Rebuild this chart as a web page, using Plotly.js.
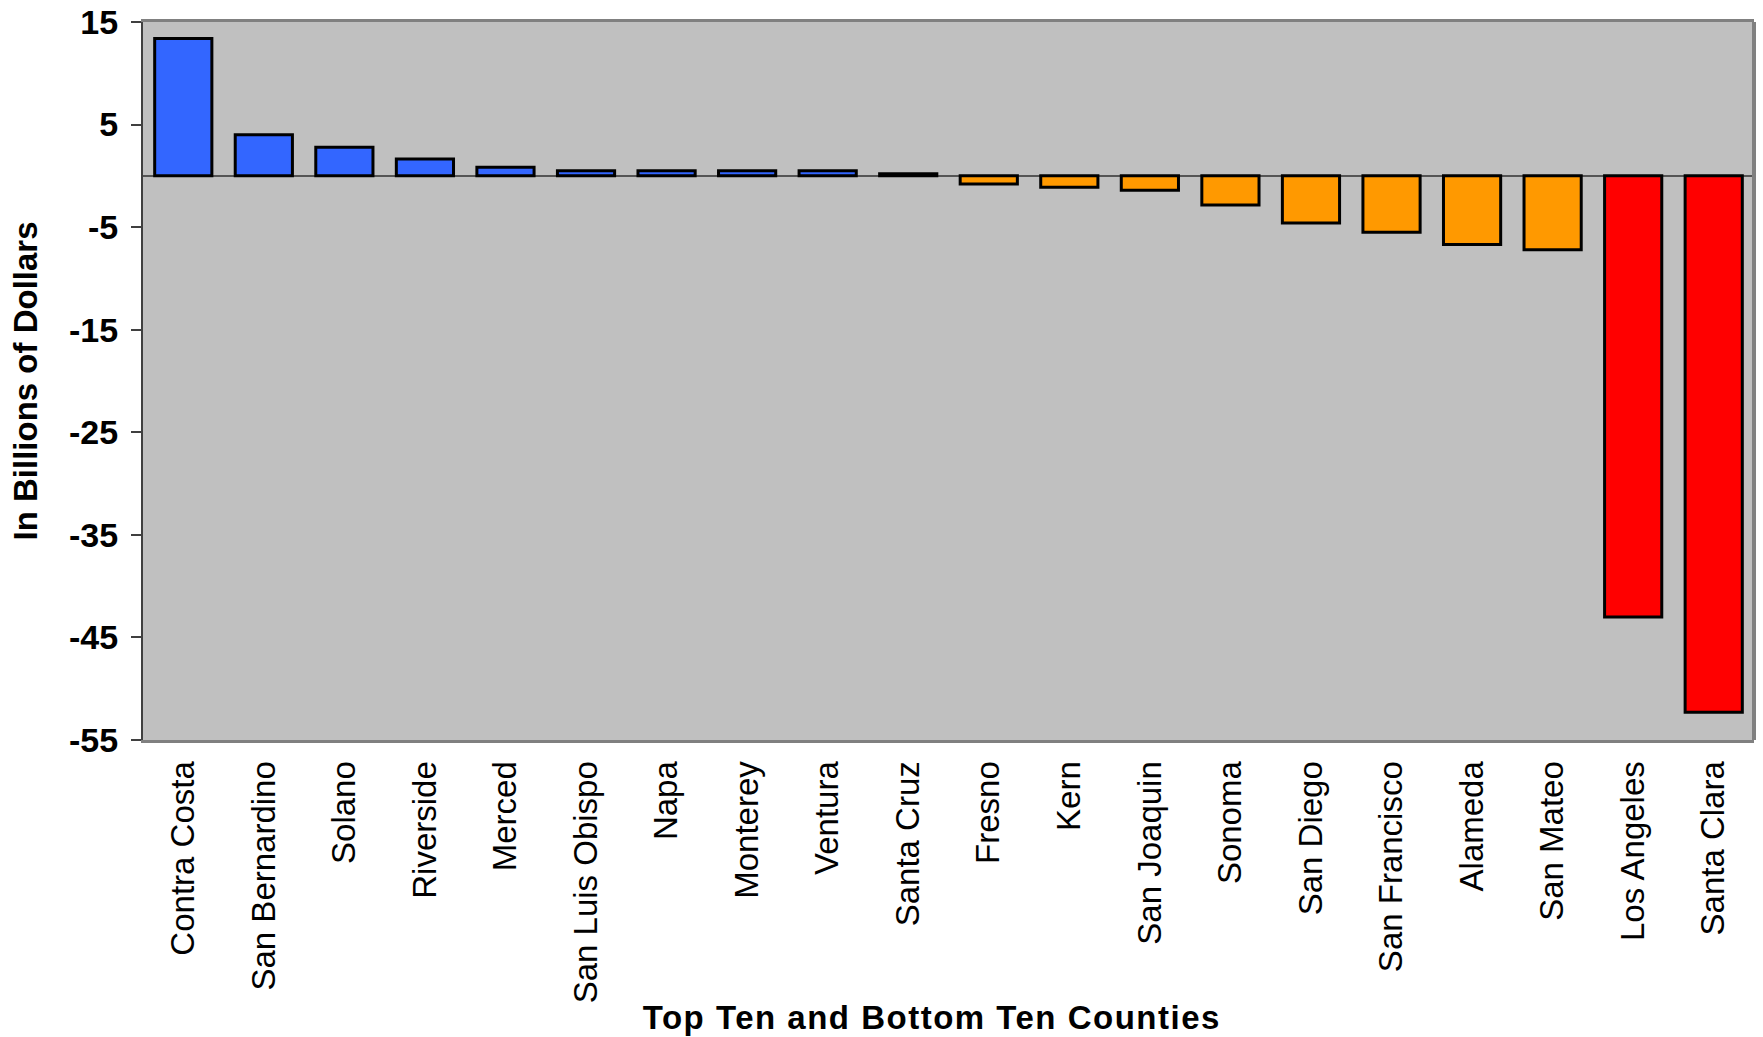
<!DOCTYPE html>
<html>
<head>
<meta charset="utf-8">
<script src="https://cdn.plot.ly/plotly-3.0.1.min.js"></script>
<style>html,body{margin:0;padding:0;background:#fff;}#chart{width:1763px;height:1037px;} .xtitlenote text{letter-spacing:1.5px;}</style>
</head>
<body>
<div id="chart"></div>
<script>
const counties = ["Contra Costa","San Bernardino","Solano","Riverside","Merced","San Luis Obispo","Napa","Monterey","Ventura","Santa Cruz","Fresno","Kern","San Joaquin","Sonoma","San Diego","San Francisco","Alameda","San Mateo","Los Angeles","Santa Clara"];
const values = [13.4, 4.0, 2.8, 1.65, 0.85, 0.5, 0.5, 0.5, 0.5, 0.2, -0.8, -1.1, -1.4, -2.85, -4.6, -5.5, -6.7, -7.2, -43.0, -52.3];
const groups = ["top","top","top","top","top","top","top","top","top","top","bottom","bottom","bottom","bottom","bottom","bottom","bottom","bottom","worst","worst"];
const tickValues = [15, 5, -5, -15, -25, -35, -45, -55];

const groupColors = {top: "#3366FF", bottom: "#FF9900", worst: "#FF0000"};
const font = "Liberation Sans, Arial, sans-serif";

const trace = {
  type: "bar",
  x: counties,
  y: values,
  marker: {color: groups.map(g => groupColors[g]), line: {color: "#000000", width: 3}},
  hoverinfo: "x+y"
};

const layout = {
  width: 1763, height: 1037,
  margin: {l: 143, r: 9, t: 22, b: 297},
  paper_bgcolor: "#ffffff",
  plot_bgcolor: "#C0C0C0",
  bargap: 0.29,
  showlegend: false,
  font: {family: font, color: "#000"},
  xaxis: {
    type: "category",
    tickangle: -90,
    tickfont: {family: font, size: 33, color: "#000"},
    ticks: "",
    ticklabelstandoff: 5,
    showgrid: false,
    showline: true, linecolor: "#808080", linewidth: 3, mirror: true,
    automargin: false
  },
  yaxis: {
    range: [-55, 15],
    tickvals: tickValues,
    ticktext: tickValues.map(String),
    tickfont: {family: font, size: 34, color: "#000", weight: "bold"},
    ticks: "outside", ticklen: 10, tickwidth: 2, tickcolor: "#404040",
    ticklabelstandoff: 6,
    showgrid: false,
    zeroline: true, zerolinecolor: "#555555", zerolinewidth: 2,
    showline: true, linecolor: "#404040", linewidth: 2,
    automargin: false,
    title: {text: "In Billions of Dollars", font: {family: font, size: 33, color: "#000", weight: "bold"}, standoff: 22}
  },
  annotations: [{
    text: "Top Ten and Bottom Ten Counties",
    xref: "paper", yref: "paper",
    x: 0.49, y: -0.387,
    xanchor: "center", yanchor: "middle",
    showarrow: false,
    font: {family: font, size: 33, color: "#000", weight: "bold"}
  }],
  shapes: [{type: "line", xref: "paper", yref: "paper", x0: 1, x1: 1, y0: 0, y1: 1, line: {color: "#808080", width: 4}}]
};

Plotly.newPlot("chart", [trace], layout, {displayModeBar: false, staticPlot: true}).then(function(gd){
  gd.querySelectorAll(".annotation").forEach(function(a){ a.classList.add("xtitlenote"); });
});
</script>
</body>
</html>
